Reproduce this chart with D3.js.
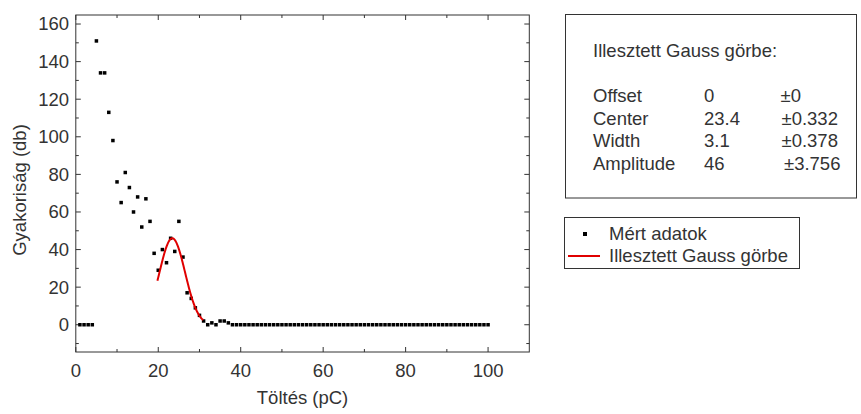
<!DOCTYPE html>
<html>
<head>
<meta charset="utf-8">
<script src="https://cdn.jsdelivr.net/npm/d3@7"></script>
<style>
  html, body { margin: 0; padding: 0; background: #fff; }
  svg { display: block; }
  text { font-family: "Liberation Sans", Arial, sans-serif; fill: #333; }
</style>
</head>
<body>
<svg id="chart" width="861" height="414"></svg>
<script>
// Measured charge bins (pC) and counts per bin
const charge = [
  1, 2, 3, 4, 5, 6, 7, 8, 9, 10, 11, 12, 13, 14, 15, 16, 17, 18, 19, 20,
  21, 22, 23, 24, 25, 26, 27, 28, 29, 30, 31, 32, 33, 34, 35, 36, 37, 38, 39, 40,
  41, 42, 43, 44, 45, 46, 47, 48, 49, 50, 51, 52, 53, 54, 55, 56, 57, 58, 59, 60,
  61, 62, 63, 64, 65, 66, 67, 68, 69, 70, 71, 72, 73, 74, 75, 76, 77, 78, 79, 80,
  81, 82, 83, 84, 85, 86, 87, 88, 89, 90, 91, 92, 93, 94, 95, 96, 97, 98, 99, 100
];
const counts = [
  0, 0, 0, 0, 151, 134, 134, 113, 98, 76, 65, 81, 73, 60, 68, 52, 67, 55, 38, 29,
  40, 33, 46, 39, 55, 36, 17, 14, 9, 5, 2, 0, 1, 0, 2, 2, 1, 0, 0, 0,
  0, 0, 0, 0, 0, 0, 0, 0, 0, 0, 0, 0, 0, 0, 0, 0, 0, 0, 0, 0,
  0, 0, 0, 0, 0, 0, 0, 0, 0, 0, 0, 0, 0, 0, 0, 0, 0, 0, 0, 0,
  0, 0, 0, 0, 0, 0, 0, 0, 0, 0, 0, 0, 0, 0, 0, 0, 0, 0, 0, 0
];

// Fitted Gauss parameters: name, value, error
const paramNames  = ["Offset", "Center", "Width", "Amplitude"];
const paramValues = [0, 23.4, 3.1, 46];
const paramErrors = ["±0", "±0.332", "±0.378", "±3.756"];
const paramText   = ["0", "23.4", "3.1", "46"];
const fitRange = [19.8, 30.9];

// Axis ticks
const xMajorTicks = [0, 20, 40, 60, 80, 100];
const xMinorTicks = [10, 30, 50, 70, 90];
const yMajorTicks = [0, 20, 40, 60, 80, 100, 120, 140, 160];
const yMinorTicks = [-10, 10, 30, 50, 70, 90, 110, 130, 150];

const svg = d3.select("#chart");
const L = 75.8, R = 529.3, T = 15, B = 352;

const x = d3.scaleLinear().domain([0, 110]).range([L, R]);
const y = d3.scaleLinear().domain([-14.5, 164.8]).range([B, T]);

const axisColor = "#333";
const fs = 18.5;

// plot frame
svg.append("rect")
  .attr("x", L).attr("y", T).attr("width", R - L).attr("height", B - T)
  .attr("fill", "none").attr("stroke", axisColor).attr("stroke-width", 1);

const ticks = svg.append("g").attr("stroke", axisColor).attr("stroke-width", 1);
function xTick(v, len) {
  ticks.append("line").attr("x1", x(v)).attr("x2", x(v)).attr("y1", B).attr("y2", B - len);
  ticks.append("line").attr("x1", x(v)).attr("x2", x(v)).attr("y1", T).attr("y2", T + len);
}
function yTick(v, len) {
  ticks.append("line").attr("y1", y(v)).attr("y2", y(v)).attr("x1", L).attr("x2", L + len);
  ticks.append("line").attr("y1", y(v)).attr("y2", y(v)).attr("x1", R).attr("x2", R - len);
}
xMajorTicks.forEach(v => xTick(v, 5));
xMinorTicks.forEach(v => xTick(v, 3));
yMajorTicks.forEach(v => yTick(v, 5));
yMinorTicks.forEach(v => yTick(v, 3));

// tick labels
svg.append("g").selectAll("text").data(xMajorTicks).join("text")
  .attr("x", d => x(d)).attr("y", 377)
  .attr("text-anchor", "middle").attr("font-size", fs)
  .text(d => d);
svg.append("g").selectAll("text").data(yMajorTicks).join("text")
  .attr("x", 69).attr("y", d => y(d)).attr("dy", "0.35em")
  .attr("text-anchor", "end").attr("font-size", fs)
  .text(d => d);

// axis titles
svg.append("text")
  .attr("x", (L + R) / 2).attr("y", 404)
  .attr("text-anchor", "middle").attr("font-size", fs)
  .text("Töltés (pC)");
svg.append("text")
  .attr("transform", "translate(26,190) rotate(-90)")
  .attr("text-anchor", "middle").attr("font-size", fs)
  .text("Gyakoriság (db)");

// measured points
const ms = 3.5;
svg.append("g").selectAll("rect").data(charge.map((c, i) => [c, counts[i]])).join("rect")
  .attr("x", d => x(d[0]) - ms / 2).attr("y", d => y(d[1]) - ms / 2)
  .attr("width", ms).attr("height", ms).attr("fill", "#000");

// fitted Gaussian curve
const [y0, xc, w, A] = paramValues;
const fitPts = d3.range(fitRange[0], fitRange[1] + 1e-9, 0.1)
  .map(t => [t, y0 + A * Math.exp(-((t - xc) ** 2) / (2 * w * w))]);
svg.append("path")
  .datum(fitPts)
  .attr("d", d3.line().x(d => x(d[0])).y(d => y(d[1])))
  .attr("fill", "none").attr("stroke", "#e00000").attr("stroke-width", 2);

// parameter box
svg.append("rect")
  .attr("x", 565.5).attr("y", 14.5).attr("width", 291).attr("height", 183.5)
  .attr("fill", "#fff").attr("stroke", "#333").attr("stroke-width", 1);
svg.append("text").attr("x", 593).attr("y", 56.5).attr("font-size", fs)
  .text("Illesztett Gauss görbe:");
const rowY = [101.5, 124.5, 147, 170];
const errX = [780.5, 781.5, 781.5, 784];
paramNames.forEach((n, i) => {
  svg.append("text").attr("x", 593).attr("y", rowY[i]).attr("font-size", fs).text(n);
  svg.append("text").attr("x", 704).attr("y", rowY[i]).attr("font-size", fs).text(paramText[i]);
  svg.append("text").attr("x", errX[i]).attr("y", rowY[i]).attr("font-size", fs).text(paramErrors[i]);
});

// legend
svg.append("rect")
  .attr("x", 564.5).attr("y", 217.5).attr("width", 235).attr("height", 51)
  .attr("fill", "#fff").attr("stroke", "#333").attr("stroke-width", 1);
svg.append("rect").attr("x", 583).attr("y", 232).attr("width", 4).attr("height", 4).attr("fill", "#000");
svg.append("text").attr("x", 609).attr("y", 234).attr("dy", "0.35em").attr("font-size", fs).text("Mért adatok");
svg.append("line").attr("x1", 568).attr("x2", 600).attr("y1", 256).attr("y2", 256)
  .attr("stroke", "#e00000").attr("stroke-width", 2);
svg.append("text").attr("x", 609).attr("y", 256).attr("dy", "0.35em").attr("font-size", fs).text("Illesztett Gauss görbe");
</script>
</body>
</html>
